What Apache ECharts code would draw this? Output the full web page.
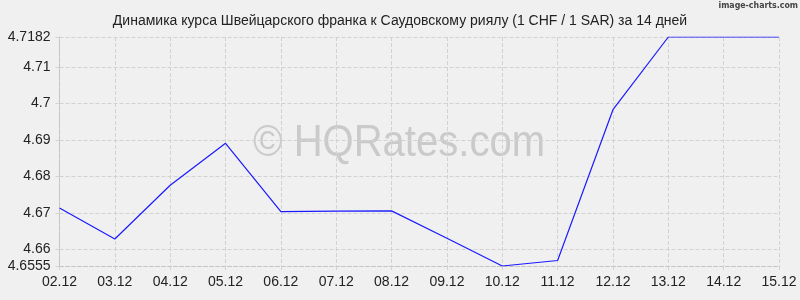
<!DOCTYPE html>
<html>
<head>
<meta charset="utf-8">
<script src="https://cdn.jsdelivr.net/npm/echarts@6/dist/echarts.min.js"></script>
<style>
html,body{margin:0;padding:0;background:#f0f0f0;}
#c{width:800px;height:300px;}
</style>
</head>
<body>
<div id="c"></div>
<script>
const titleText = "Динамика курса Швейцарского франка к Саудовскому риялу (1 CHF / 1 SAR) за 14 дней";
const categories = ["02.12","03.12","04.12","05.12","06.12","07.12","08.12","09.12","10.12","11.12","12.12","13.12","14.12","15.12"];
const rates = [4.6714, 4.6629, 4.6776, 4.6891, 4.6704, 4.6705, 4.6706, 4.6631, 4.6555, 4.6570, 4.6983, 4.7182, 4.7182, 4.7182];
const yMin = 4.6555;
const yMax = 4.7182;
const yTicks = [4.6555, 4.66, 4.67, 4.68, 4.69, 4.70, 4.71, 4.7182];

const chart = echarts.init(document.getElementById('c'), null, {renderer:'canvas'});
const gridColor = '#d2d2d2';
chart.setOption({
  backgroundColor: '#f0f0f0',
  animation: false,
  title: {
    text: titleText,
    left: 'center',
    top: 9,
    textStyle: {fontFamily: 'Liberation Sans, Arial', fontSize: 14, fontWeight: 'normal', color: '#222'}
  },
  graphic: [
    {type:'text', right: 2, top: 1, scaleX: 0.92, style:{text:'image-charts.com', fontFamily:'DejaVu Sans Condensed', fontSize: 9.5, fontWeight:'bold', fill:'#444'}},
    {type:'text', left: 253, top: 122, z: -1, scaleX: 0.91, style:{text:'© HQRates.com', fontFamily:'Liberation Sans, Arial', fontSize: 44, fill:'#cacaca'}}
  ],
  grid: {left: 59.5, right: 21, top: 37, bottom: 34, containLabel: false},
  xAxis: {
    type: 'category',
    data: categories,
    boundaryGap: false,
    axisLine: {show: true, lineStyle: {color: '#c4c4c4', type: 'dashed'}},
    axisTick: {show: true, length: 4, lineStyle: {color: gridColor, type: 'dashed'}},
    axisLabel: {fontFamily: 'Liberation Sans, Arial', fontSize: 14, color: '#222', margin: 9, interval: 0},
    splitLine: {show: true, lineStyle: {color: gridColor, type: 'dashed'}}
  },
  yAxis: {
    type: 'value',
    min: yMin,
    max: yMax,
    axisLine: {show: true, lineStyle: {color: '#c4c4c4', type: 'dashed'}},
    axisTick: {show: true, length: 4, customValues: yTicks, lineStyle: {color: gridColor, type: 'dashed'}},
    axisLabel: {fontFamily: 'Liberation Sans, Arial', fontSize: 14, color: '#222', margin: 9, customValues: yTicks},
    splitLine: {show: true, customValues: yTicks, lineStyle: {color: gridColor, type: 'dashed'}}
  },
  series: [{
    type: 'line',
    data: rates,
    symbol: 'none',
    lineStyle: {color: '#1a1aff', width: 1.2}
  }]
});
</script>
</body>
</html>
